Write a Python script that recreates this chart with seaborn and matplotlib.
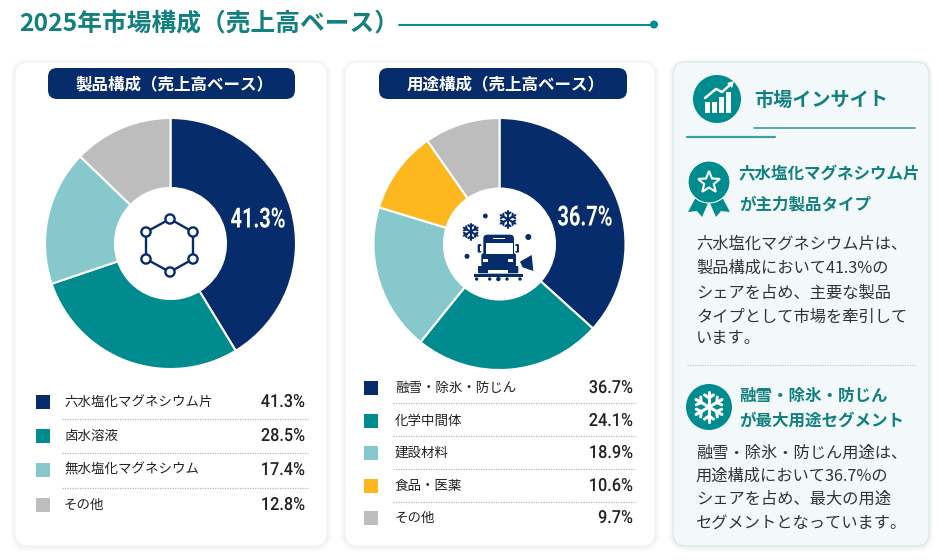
import numpy as np
import matplotlib
matplotlib.use("Agg")
import matplotlib.pyplot as plt
import seaborn as sns
from matplotlib.patches import FancyBboxPatch, Circle, Polygon, Rectangle
from matplotlib.patheffects import AbstractPathEffect
from matplotlib.transforms import Affine2D

sns.set_theme(style="white")
JP = ["Noto Sans CJK JP", "DejaVu Sans"]
plt.rcParams["font.family"] = JP

product_labels = ["六水塩化マグネシウム片", "卤水溶液", "無水塩化マグネシウム", "その他"]
product_values = [41.3, 28.5, 17.4, 12.8]
use_labels = ["融雪・除氷・防じん", "化学中間体", "建設材料", "食品・医薬", "その他"]
use_values = [36.7, 24.1, 18.9, 10.6, 9.7]

title = "2025年市場構成（売上高ベース）"
product_title = "製品構成（売上高ベース）"
use_title = "用途構成（売上高ベース）"
insight_title = "市場インサイト"
head_a = ["六水塩化マグネシウム片", "が主力製品タイプ"]
body_a = ["六水塩化マグネシウム片は、", "製品構成において41.3%の", "シェアを占め、主要な製品",
          "タイプとして市場を牽引して", "います。"]
head_b = ["融雪・除氷・防じん", "が最大用途セグメント"]
body_b = ["融雪・除氷・防じん用途は、", "用途構成において36.7%の", "シェアを占め、最大の用途",
          "セグメントとなっています。"]

NAVY, TEAL, LIGHT, GOLD, GREY = "#062c6b", "#008c8f", "#86c8cb", "#fdb81f", "#bdbdbd"
HEAD = "#12807f"
product_colors = sns.color_palette([NAVY, TEAL, LIGHT, GREY])
use_colors = sns.color_palette([NAVY, TEAL, LIGHT, GOLD, GREY])

W, H = 940, 560
fig = plt.figure(figsize=(W / 100, H / 100), dpi=100, facecolor="white")


class Squeeze(AbstractPathEffect):
    """Narrow a text horizontally about a fixed x, in display pixels."""

    def __init__(self, anchor_x, factor):
        super().__init__()
        self.a, self.f = anchor_x, factor

    def draw_path(self, renderer, gc, tpath, affine, rgbFace=None):
        sq = Affine2D().translate(-self.a, 0).scale(self.f, 1).translate(self.a, 0)
        renderer.draw_path(gc, tpath, affine + sq, rgbFace)


def pixel_axes(z):
    a = fig.add_axes([0, 0, 1, 1], zorder=z)
    a.set_xlim(0, W)
    a.set_ylim(H, 0)
    a.axis("off")
    a.patch.set_alpha(0)
    return a


bg = pixel_axes(0)
top = pixel_axes(2)


def card(x0, y0, x1, y1, fc, ec, r=13):
    for grow, alpha in [(5, .006), (4, .008), (3, .01), (2, .012), (1, .015)]:
        bg.add_patch(FancyBboxPatch((x0 - grow, y0 - grow + 1), x1 - x0 + 2 * grow, y1 - y0 + 2 * grow,
                                    boxstyle=f"round,pad=0,rounding_size={r + grow}",
                                    fc="#30485a", ec="none", alpha=alpha))
    bg.add_patch(FancyBboxPatch((x0, y0), x1 - x0, y1 - y0, boxstyle=f"round,pad=0,rounding_size={r}",
                                fc=fc, ec=ec, lw=0.8))


def pill(x0, x1, text):
    bg.add_patch(FancyBboxPatch((x0, 68), x1 - x0, 31, boxstyle="round,pad=0,rounding_size=9",
                                fc=NAVY, ec="none"))
    bg.text((x0 + x1) / 2 + 3, 84.5, text, color="white", fontsize=11.9, fontweight="bold",
            ha="center", va="center")


def donut(cx, cy, r, values, colors):
    ax = fig.add_axes([(cx - r) / W, 1 - (cy + r) / H, 2 * r / W, 2 * r / H], zorder=1)
    ax.pie(values, colors=colors, startangle=90, counterclock=False, radius=1,
           wedgeprops=dict(width=1 - 55.5 / r, edgecolor="white", linewidth=1.5))
    ax.set_xlim(-1, 1)
    ax.set_ylim(-1, 1)
    return ax


def legend(labels, values, colors, ys, dividers, sx, tx, rx, dx0, dx1):
    for lab, val, col, y in zip(labels, values, colors, ys):
        bg.add_patch(Rectangle((sx, y - 7), 14, 14, fc=col, ec="none"))
        bg.text(tx, y, lab, fontsize=9.7, color="#222222", ha="left", va="center")
        bg.text(rx, y, f"{val:.1f}%", fontsize=13, fontweight="medium", color="#222222",
                family="Roboto", ha="right", va="center",
                path_effects=[Squeeze(rx, 0.9)])
    for y in dividers:
        bg.plot([dx0, dx1], [y, y], color="#b5b5b5", lw=0.9, ls=(0, (1, 1)))


def big_pct(x, y, val):
    top.text(x, y, f"{val:.1f}%", color="white", fontsize=20, fontweight="bold", family="Roboto",
             ha="center", va="center", path_effects=[Squeeze(x, 0.72)])


def snowflake(cx, cy, s, color, lw, ax=top):
    for ang in (90, 30, -30):
        t = np.radians(ang)
        ux, uy = np.cos(t), np.sin(t)
        ax.plot([cx - s * ux, cx + s * ux], [cy - s * uy, cy + s * uy], color=color, lw=lw, solid_capstyle="round")
        for sgn in (-1, 1):
            bx, by = cx + sgn * s * .6 * ux, cy + sgn * s * .6 * uy
            for d in (-55, 55):
                q = t + np.radians(d) if sgn > 0 else t + np.pi + np.radians(d)
                ax.plot([bx, bx + s * .36 * np.cos(q)], [by, by + s * .36 * np.sin(q)],
                        color=color, lw=lw, solid_capstyle="round")


# header
bg.text(19, 24, title, color=HEAD, fontsize=17.8, fontweight="bold", ha="left", va="center")
bg.plot([399, 654], [24.5, 24.5], color=TEAL, lw=1.4)
bg.add_patch(Circle((654, 24.5), 4, fc=TEAL, ec="none"))

# cards
card(15, 62, 327, 546, "white", "#f3f3f3")
card(345, 62, 655, 546, "white", "#f3f3f3")
card(673, 62, 929, 546, "#f3f9fb", "#d6e8ea")
pill(48, 295, product_title)
pill(379, 627, use_title)

# donuts
donut(170.5, 243.5, 125.5, product_values, product_colors)
donut(499.5, 244, 126, use_values, use_colors)
big_pct(258, 220, product_values[0])
big_pct(585, 218, use_values[0])

# legends
legend(product_labels, product_values, product_colors, [402, 436, 470, 505], [419, 453, 488], 36, 64, 305, 62, 308)
legend(use_labels, use_values, use_colors, [388, 421, 453, 486, 518], [403, 436, 469, 502], 364, 395, 633, 393, 636)

# hexagon icon
hx = [170, 193, 193, 170, 146, 146, 170]
hy = [219, 232, 259, 272, 259, 232, 219]
top.plot(hx, hy, color=NAVY, lw=1.7)
for x, y in zip(hx[:-1], hy[:-1]):
    top.add_patch(Circle((x, y), 4.6, fc="white", ec=NAVY, lw=1.7, zorder=5))

# plough icon, laid out in thirds of a pixel from the icon's corner
ox, oy = 440, 190
P = lambda x, y: (ox + x / 3, oy + y / 3)


def R(x0, y0, x1, y1, fc=NAVY, round_=0):
    if round_:
        top.add_patch(FancyBboxPatch(P(x0, y0), (x1 - x0) / 3, (y1 - y0) / 3,
                                     boxstyle=f"round,pad=0,rounding_size={round_}", fc=fc, ec="none"))
    else:
        top.add_patch(Rectangle(P(x0, y0), (x1 - x0) / 3, (y1 - y0) / 3, fc=fc, ec="none"))


R(130, 134, 222, 200, round_=4)
R(124, 190, 228, 230, round_=2)
R(113, 162, 124, 188, round_=1.5)
R(226, 162, 237, 188, round_=1.5)
R(119, 168, 126, 182, fc="white")
R(225, 168, 231, 182, fc="white")
R(137, 158, 218, 191, fc="white")
R(160, 143, 195, 148, fc="white")
R(130, 207, 145, 216, fc="white")
R(205, 207, 220, 216, fc="white")
R(114, 228, 235, 250, round_=1)
R(145, 240, 205, 248, fc="white")
R(103, 253, 248, 260)
top.add_patch(Polygon([P(240, 215), P(275, 195), P(280, 243), P(248, 232)], fc=NAVY, ec="none"))
for x, r in [(110, 1.7), (149, 1.7), (175, 2.2), (201, 1.7), (240, 1.7)]:
    top.add_patch(Circle(P(x, 267), r, fc=NAVY, ec="none"))
for x, y, r in [(136, 78, 2.4), (265, 141, 3), (81, 199, 2.5)]:
    top.add_patch(Circle(P(x, y), r, fc=NAVY, ec="none"))
snowflake(*P(92, 125), 8, NAVY, 1.5)
snowflake(*P(204, 88), 8.5, NAVY, 1.5)

# insight panel
top.add_patch(Circle((717, 99), 24, fc=TEAL, ec="none"))
for x, y0 in [(707, 102), (714, 102), (721, 97), (728, 92)]:
    top.add_patch(Rectangle((x - 2.5, y0), 5.5, 113 - y0, fc="white", ec="none"))
top.plot([705, 716, 722, 731], [98, 89, 92, 84], color="white", lw=1.8)
top.add_patch(Polygon([(727, 83), (734, 81), (732, 88)], fc="white", ec="none"))
top.text(754, 100, insight_title, color=HEAD, fontsize=13.8, fontweight="bold", ha="left", va="center")
top.plot([754, 915], [128, 128], color="#3a9ea3", lw=1.2)
top.plot([687, 775], [137, 137], color="#3a9ea3", lw=1.6)

# ribbon badge
top.add_patch(Polygon([(696, 197), (688, 212), (697, 211), (702, 217), (709, 201)], fc=TEAL, ec="none"))
top.add_patch(Polygon([(722, 197), (730, 212), (721, 211), (716, 217), (709, 201)], fc=TEAL, ec="none"))
top.add_patch(Circle((709, 182), 21, fc=TEAL, ec="white", lw=0.8))
ang = np.radians(np.arange(0, 360, 36) - 90)
rad = np.where(np.arange(10) % 2 == 0, 11.5, 5)
top.add_patch(Polygon(np.c_[709 + rad * np.cos(ang), 182.5 + rad * np.sin(ang)], fc="none", ec="white", lw=1.5))

for txt, y in zip(head_a, [174.5, 204]):
    top.text(739, y, txt, color=HEAD, fontsize=11.9, fontweight="bold", ha="left", va="center")
for txt, y in zip(body_a, [244, 268, 293, 317, 339]):
    top.text(696, y, txt, color="#333333", fontsize=11.7, ha="left", va="center")
top.plot([687, 915], [365, 365], color="#b9cdd0", lw=0.9, ls=(0, (1, 1)))

top.add_patch(Circle((709, 407), 23, fc=TEAL, ec="none"))
snowflake(709, 407, 15, "white", 2.2)
for txt, y in zip(head_b, [396, 421]):
    top.text(739, y, txt, color=HEAD, fontsize=11.9, fontweight="bold", ha="left", va="center")
for txt, y in zip(body_b, [453, 476, 499, 523]):
    top.text(696, y, txt, color="#333333", fontsize=11.7, ha="left", va="center")

fig.savefig("out.png", dpi=100, facecolor="white")
